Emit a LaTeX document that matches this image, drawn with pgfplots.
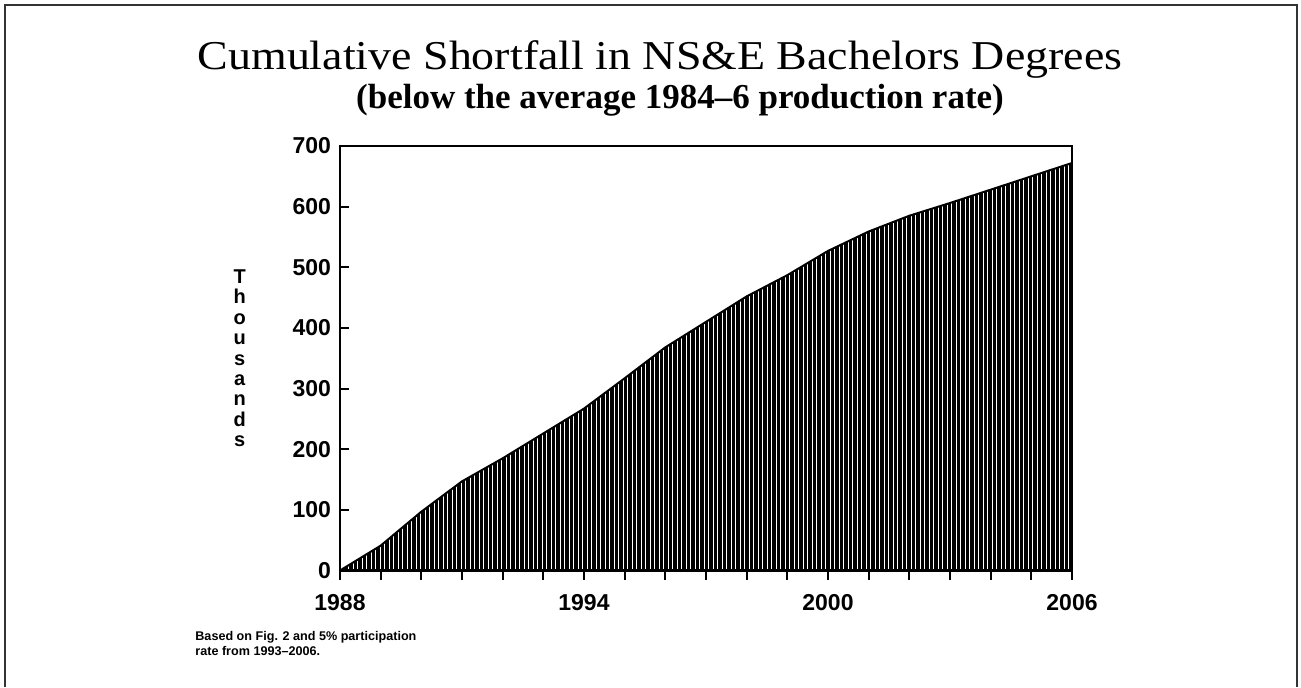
\documentclass[border=0pt]{standalone}
\usepackage{fontspec}
\setmainfont{Liberation Sans}
\newfontfamily\titlefont[FakeStretch=1.12]{Liberation Serif}
\newfontfamily\subtitlefont{Liberation Serif}
\usepackage{pgfplots}
\pgfplotsset{compat=1.18}
\usetikzlibrary{patterns.meta}
\begin{document}
\begin{tikzpicture}
\path[use as bounding box] (0,0) rectangle (650.5pt,343.5pt);
\draw[line width=1.2pt,black!80] (2.5pt,0) -- (2.5pt,341pt) -- (648.5pt,341pt) -- (648.5pt,0);
\node[font=\titlefont\fontsize{20.5}{24}\selectfont] at (330pt,314pt) {Cumulative Shortfall in NS\&E Bachelors Degrees};
\node[font=\subtitlefont\bfseries\fontsize{17.5}{21}\selectfont] at (340pt,293.5pt) {(below the average 1984–6 production rate)};
\node[font=\bfseries\fontsize{6.3}{7.5}\selectfont, anchor=north west, align=left, inner sep=0pt] at (97.5pt,28pt) {Based on Fig. 2 and 5\% participation\\rate from 1993–2006.};
\begin{axis}[
  at={(170pt,58.25pt)}, anchor=south west,
  scale only axis, width=366pt, height=212.25pt,
  xmin=1988, xmax=2006, ymin=0, ymax=700,
  axis line style={line width=1.1pt},
  xtick={1988,1994,2000,2006},
  minor xtick={1989,...,2005},
  ytick={0,100,...,700},
  xtick pos=bottom, ytick pos=left,
  tick align=inside,
  major tick length=4.5pt, minor tick length=4.5pt,
  every tick/.style={line width=1pt,black},
  every major x tick/.style={yshift=-4.5pt,line width=1pt,black},
  every minor x tick/.style={yshift=-4.5pt,line width=1pt,black},
  /pgf/number format/assume math mode=true,
  xticklabel={\pgfmathprintnumber[1000 sep=]{\tick}},
  tick label style={font=\bfseries\fontsize{11.5}{13}\selectfont},
  x tick label style={yshift=-8.5pt},
  y tick label style={xshift=-1pt},
  ylabel={T\\h\\o\\u\\s\\a\\n\\d\\s},
  ylabel style={rotate=-90, align=center, font=\bfseries\fontsize{10}{10.2}\selectfont, at={(axis description cs:-0.137,0.5)}, anchor=center},
  axis on top,
]
\addplot[line width=1pt, black, pattern={Lines[angle=90,distance=2.25pt,line width=1.55pt]}] coordinates {
(1988,0) (1989,41) (1990,97) (1991,147) (1992,185) (1993,226) (1994,267)
(1995,317) (1996,368) (1997,410) (1998,452) (1999,487) (2000,527)
(2001,559) (2002,585) (2003,606) (2004,628) (2005,650) (2006,672)
} \closedcycle;
\end{axis}
\end{tikzpicture}
\end{document}
